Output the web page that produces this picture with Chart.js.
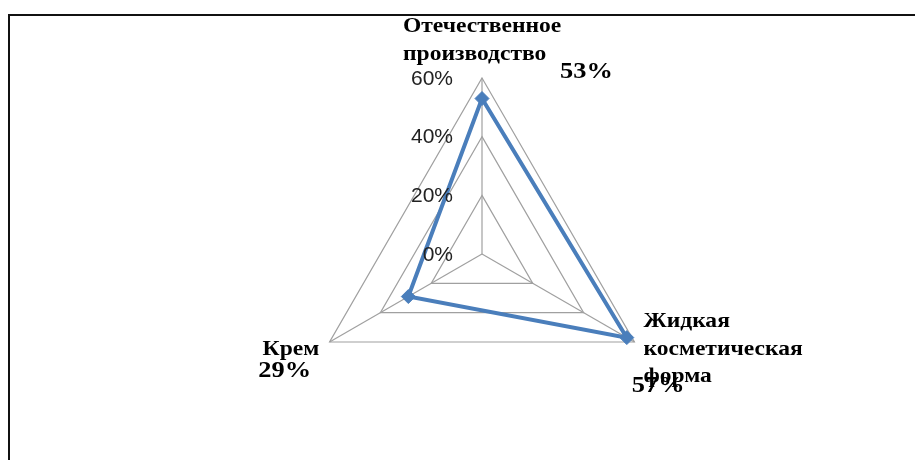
<!DOCTYPE html>
<html lang="ru">
<head>
<meta charset="utf-8">
<title>Радарная диаграмма</title>
<script src="https://cdn.jsdelivr.net/npm/chart.js@4/dist/chart.umd.min.js"></script>
<style>
  html, body { margin: 0; padding: 0; background: #fff; }
  #wrap { position: relative; width: 915px; height: 460px; overflow: hidden; }
  #frame { position: absolute; left: 8px; top: 14px; width: 1000px; height: 600px;
           border-top: 2px solid #111; border-left: 2px solid #111; }
  canvas { position: absolute; left: 0; top: 0; }
</style>
</head>
<body>
<div id="wrap">
  <div id="frame"></div>
  <canvas id="chart" width="915" height="460"></canvas>
</div>
<script>
// Axis categories (multi-line names), shares in percent, radial ticks
const categories = [
  ['Отечественное', 'производство'],
  ['Жидкая', 'косметическая', 'форма'],
  ['Крем']
];
const shares = [53, 57, 29];
const tickValues = [0, 20, 40, 60];

// Label placement relative to axis ends / data points
const categoryOffsets = [
  { dx: -79, dy: [-46, -18] },
  { dx: 9, dy: [-15, 13, 40] },
  { dx: -67, dy: [13] }
];
const valueOffsets = [
  { dx: 78, dy: -21 },
  { dx: 5, dy: 54 },
  { dx: -150, dy: 80 }
];

// text drawn slightly widened, as in the printed serif face
function wideText(ctx, text, x, y, sx) {
  ctx.save();
  ctx.translate(x, y);
  ctx.scale(sx, 1);
  ctx.fillText(text, 0, 0);
  ctx.restore();
}

const labelPlugin = {
  id: 'radarLabels',
  afterDraw(chart) {
    const ctx = chart.ctx;
    const scale = chart.scales.r;
    ctx.save();

    // radial tick labels, right-aligned next to the vertical spoke
    ctx.font = '21px "Liberation Sans", Arial, sans-serif';
    ctx.fillStyle = '#222';
    ctx.textAlign = 'right';
    ctx.textBaseline = 'middle';
    tickValues.forEach(v => {
      const d = scale.getDistanceFromCenterForValue(v);
      ctx.fillText(v + '%', scale.xCenter - 29, scale.yCenter - d + 1);
    });

    // category names at the ends of the spokes
    ctx.font = 'bold 22px "Liberation Serif", "Times New Roman", serif';
    ctx.fillStyle = '#000';
    ctx.textAlign = 'left';
    ctx.textBaseline = 'alphabetic';
    categories.forEach((lines, i) => {
      const p = scale.getPointPosition(i, scale.drawingArea);
      const o = categoryOffsets[i];
      lines.forEach((line, j) => wideText(ctx, line, p.x + o.dx, p.y + o.dy[j], 1.07));
    });

    // value labels next to the data points
    ctx.font = 'bold 24px "Liberation Serif", "Times New Roman", serif';
    const meta = chart.getDatasetMeta(0);
    meta.data.forEach((pt, i) => {
      const o = valueOffsets[i];
      wideText(ctx, shares[i] + '%', pt.x + o.dx, pt.y + o.dy, 1.1);
    });

    ctx.restore();
  }
};

new Chart(document.getElementById('chart'), {
  type: 'radar',
  data: {
    labels: categories,
    datasets: [{
      data: shares,
      borderColor: '#4a7ebb',
      backgroundColor: 'rgba(0,0,0,0)',
      borderWidth: 4,
      fill: false,
      pointStyle: 'rectRot',
      pointRadius: 7,
      pointBackgroundColor: '#4a7ebb',
      pointBorderColor: '#4a7ebb',
      pointBorderWidth: 1
    }]
  },
  options: {
    responsive: false,
    animation: false,
    events: [],
    layout: { padding: { left: 100, right: 51, top: 78, bottom: 30 } },
    plugins: {
      legend: { display: false },
      tooltip: { enabled: false }
    },
    scales: {
      r: {
        min: 0,
        max: 60,
        ticks: { display: false, stepSize: 20 },
        pointLabels: { display: false },
        grid: { color: '#a0a0a0', lineWidth: 1.2, circular: false },
        angleLines: { color: '#a0a0a0', lineWidth: 1.2 }
      }
    }
  },
  plugins: [labelPlugin]
});
</script>
</body>
</html>
